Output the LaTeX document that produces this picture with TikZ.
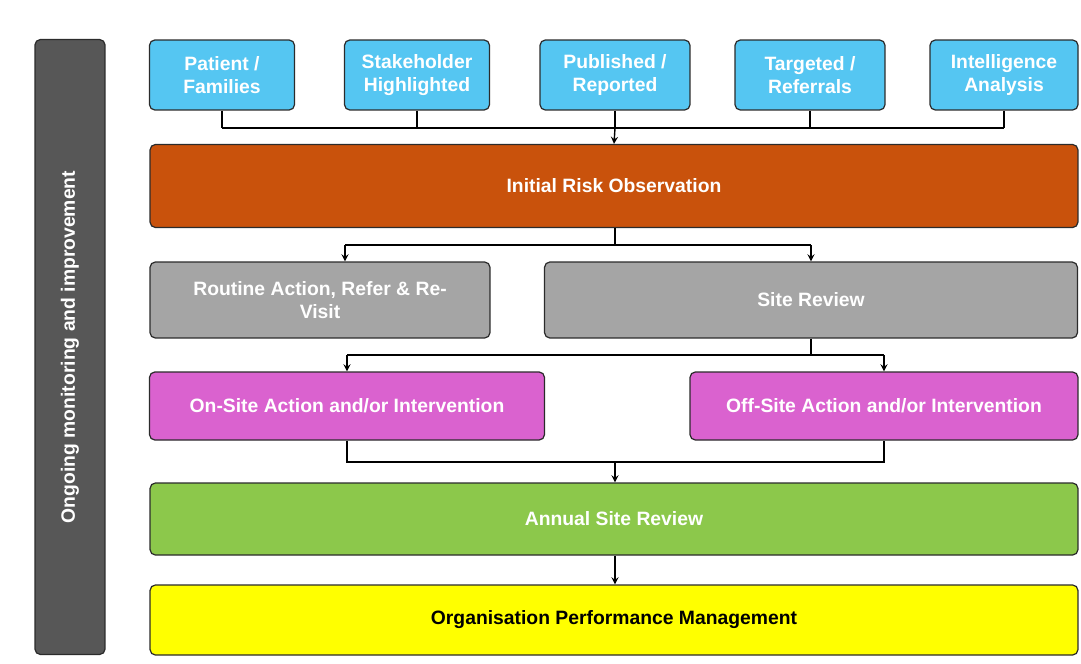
\documentclass[tikz,border=0pt]{standalone}
\usepackage{fontspec}
\setmainfont{Liberation Sans}
\usetikzlibrary{positioning}
\definecolor{SrcBlue}{HTML}{55C6F2}
\definecolor{ObsOrange}{HTML}{C9520C}
\definecolor{RevGray}{HTML}{A5A5A5}
\definecolor{ActPink}{HTML}{DA62CF}
\definecolor{AnnGreen}{HTML}{8CC84B}
\definecolor{PerfYellow}{HTML}{FFFF00}
\definecolor{BarGray}{HTML}{575757}
\definecolor{EdgeDark}{HTML}{2B2B2B}

\begin{document}
\begin{tikzpicture}[>=stealth,x=0.02cm,y=-0.02cm]
  \tikzstyle{stagebox}=[draw=EdgeDark,line width=0.7pt,rounded corners=3pt,
    align=center,text=white,inner sep=2pt,
    font=\fontsize{11}{13}\selectfont\bfseries]
  \tikzstyle{srcbox}=[stagebox,fill=SrcBlue,minimum height=1.4cm]
  \tikzstyle{link}=[line width=0.8pt,draw=black]
  \useasboundingbox (0,0) rectangle (1081,663);
  % side bar
  \node[stagebox,fill=BarGray,minimum width=12.3cm,minimum height=1.4cm,
    rotate=90] (monitor) at (70,347) {Ongoing monitoring and improvement};
  % sources
  \node[srcbox,minimum width=2.9cm] (patient) at (222,75) {Patient /\\Families};
  \node[srcbox,minimum width=2.9cm] (stake) at (417,75) {Stakeholder\\Highlighted};
  \node[srcbox,minimum width=3cm] (publish) at (615,75) {Published /\\Reported};
  \node[srcbox,minimum width=3cm] (target) at (810,75) {Targeted /\\Referrals};
  \node[srcbox,minimum width=2.96cm] (intel) at (1004,75) {Intelligence\\Analysis};
  % stages
  \node[stagebox,fill=ObsOrange,minimum width=18.56cm,minimum height=1.66cm]
    (observe) at (614,186) {Initial Risk Observation};
  \node[stagebox,fill=RevGray,minimum width=6.8cm,minimum height=1.52cm]
    (routine) at (320,300) {Routine Action, Refer \& Re-\\Visit};
  \node[stagebox,fill=RevGray,minimum width=10.66cm,minimum height=1.52cm]
    (review) at (811,300) {Site Review};
  \node[stagebox,fill=ActPink,minimum width=7.9cm,minimum height=1.36cm]
    (onsite) at (347,406) {On-Site Action and/or Intervention};
  \node[stagebox,fill=ActPink,minimum width=7.76cm,minimum height=1.36cm]
    (offsite) at (884,406) {Off-Site Action and/or Intervention};
  \node[stagebox,fill=AnnGreen,minimum width=18.56cm,minimum height=1.44cm]
    (annual) at (614,519) {Annual Site Review};
  \node[stagebox,fill=PerfYellow,text=black,minimum width=18.56cm,
    minimum height=1.4cm] (perf) at (614,620) {Organisation Performance Management};
  % junctions
  \coordinate (srcbus) at (615,128);
  \coordinate (obsbus) at (615,245);
  \coordinate (revbus) at (811,355);
  \coordinate (actbus) at (615,462);
  % sources to observation
  \foreach \s in {patient,stake,publish,target,intel}
    \draw[link] (\s.south) -- (\s.south |- srcbus);
  \draw[link] (patient.south |- srcbus) -- (intel.south |- srcbus);
  \draw[link,->] (srcbus) -- (observe.north);
  % observation to reviews
  \draw[link] (observe.south -| obsbus) -- (obsbus);
  \draw[link] (obsbus -| 345,0) -- (obsbus -| review.north);
  \draw[link,->] (obsbus -| 345,0) -- (routine.north -| 345,0);
  \draw[link,->] (obsbus -| review.north) -- (review.north);
  % review to actions
  \draw[link] (review.south) -- (revbus);
  \draw[link] (revbus -| onsite.north) -- (revbus -| offsite.north);
  \draw[link,->] (revbus -| onsite.north) -- (onsite.north);
  \draw[link,->] (revbus -| offsite.north) -- (offsite.north);
  % actions to annual review
  \draw[link] (onsite.south) -- (onsite.south |- actbus) -- (offsite.south |- actbus) -- (offsite.south);
  \draw[link,->] (actbus) -- (annual.north -| actbus);
  \draw[link,->] (annual.south -| actbus) -- (perf.north -| actbus);
\end{tikzpicture}
\end{document}
